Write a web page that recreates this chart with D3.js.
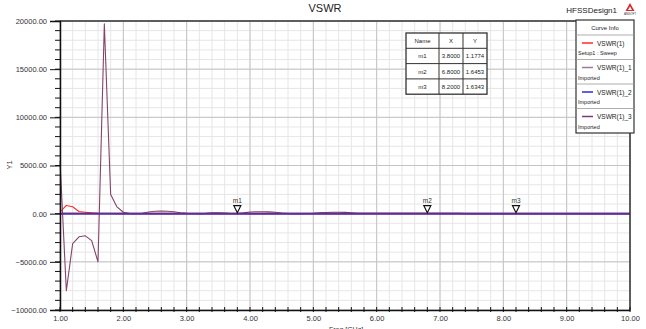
<!DOCTYPE html>
<html>
<head>
<meta charset="utf-8">
<script src="https://cdn.jsdelivr.net/npm/d3@7"></script>
<style>
  body { margin: 0; background: #fff; }
  svg { display: block; font-family: "Liberation Sans", Arial, sans-serif; }
</style>
</head>
<body>
<svg id="chart" width="646" height="329"></svg>
<script>
// Frequency samples (GHz), 0.1 step
const freq = d3.range(0, 91).map(i => +(1 + i * 0.1).toFixed(1));

// VSWR(1) - Setup1 : Sweep
const vswr1 = [150, 850, 720, 220, 150, 80, 40, 20, 10, 5,
  3, 2, 2, 1.8, 1.7, 1.6, 1.5, 1.4, 1.3, 1.2,
  1.2, 1.2, 1.2, 1.2, 1.2, 1.2, 1.2, 1.2, 1.1774, 1.2,
  1.3, 1.3, 1.4, 1.4, 1.4, 1.5, 1.5, 1.5, 1.5, 1.5,
  1.6, 1.6, 1.6, 1.6, 1.6, 1.6, 1.6, 1.6, 1.6, 1.6,
  1.6, 1.6, 1.6, 1.6, 1.6, 1.6, 1.6, 1.6, 1.6453, 1.6,
  1.6, 1.6, 1.6, 1.6, 1.6, 1.6, 1.6, 1.6, 1.6, 1.6,
  1.6, 1.6, 1.6343, 1.6, 1.6, 1.6, 1.6, 1.6, 1.6, 1.6,
  1.6, 1.6, 1.6, 1.6, 1.6, 1.6, 1.6, 1.6, 1.6, 1.6, 1.6];

// VSWR(1)_1 - Imported (large oscillation)
const vswr1_1 = [5500, -8000, -3100, -2400, -2300, -2800, -5000, 19700, 2000, 700,
  150, 20, 5, 50, 180, 250, 260, 250, 200, 100,
  30, 10, 5, 30, 80, 100, 60, 20, 5, 80,
  180, 200, 200, 190, 150, 60, 10, 5, 5, 10,
  30, 80, 120, 140, 140, 130, 100, 50, 30, 40,
  40, 40, 40, 40, 40, 40, 40, 40, 40, 40,
  40, 40, 40, 40, 10, 5, 3, 3, 3, 3,
  3, 3, 3, 3, 3, 3, 3, 3, 3, 3,
  3, 3, 3, 3, 3, 3, 3, 3, 3, 3, 3];

// VSWR(1)_2 and VSWR(1)_3 - Imported (flat near 1)
const vswr1_2 = freq.map(() => 1.4);
const vswr1_3 = freq.map(() => 1.6);

const seriesNames = ['VSWR(1)', 'VSWR(1)_1', 'VSWR(1)_2', 'VSWR(1)_3'];
const seriesSub = ['Setup1 : Sweep', 'Imported', 'Imported', 'Imported'];
const seriesColors = ['#ff2a2a', '#84446a', '#2a2ae0', '#6a2c80'];
const legendColors = ['#ff2a2a', '#a07890', '#2a2ae0', '#7a3a7a'];
const seriesValues = [vswr1, vswr1_1, vswr1_2, vswr1_3];
const seriesWidths = [1.1, 1.1, 1.6, 1.6];

const markerNames = ['m1', 'm2', 'm3'];
const markerX = [3.8, 6.8, 8.2];
const markerY = [1.1774, 1.6453, 1.6343];

const xTicks = [1, 2, 3, 4, 5, 6, 7, 8, 9, 10];
const yTicks = [-10000, -5000, 0, 5000, 10000, 15000, 20000];

const svg = d3.select('#chart');
const pL = 60, pR = 630, pT = 21, pB = 310;

const x = d3.scaleLinear().domain([1, 10]).range([pL, pR]);
const y = d3.scaleLinear().domain([-10000, 20000]).range([pB, pT]);

const xMinor = d3.range(1, 10.001, 0.2);
const yMinor = d3.range(-10000, 20001, 1000);

// Grid
const grid = svg.append('g');
grid.selectAll('.vmin').data(xMinor).join('line')
  .attr('x1', d => x(d)).attr('x2', d => x(d)).attr('y1', pT).attr('y2', pB)
  .attr('stroke', '#e6e6e6').attr('stroke-width', 1);
grid.selectAll('.hmin').data(yMinor).join('line')
  .attr('x1', pL).attr('x2', pR).attr('y1', d => y(d)).attr('y2', d => y(d))
  .attr('stroke', '#e6e6e6').attr('stroke-width', 1);
grid.selectAll('.vmaj').data(xTicks).join('line')
  .attr('x1', d => x(d)).attr('x2', d => x(d)).attr('y1', pT).attr('y2', pB)
  .attr('stroke', '#c4c4c4').attr('stroke-width', 1);
grid.selectAll('.hmaj').data(yTicks).join('line')
  .attr('x1', pL).attr('x2', pR).attr('y1', d => y(d)).attr('y2', d => y(d))
  .attr('stroke', '#c4c4c4').attr('stroke-width', 1);

// Curves
const line = d3.line().x((d, i) => x(freq[i])).y(d => y(d));
const curves = svg.append('g');
seriesValues.forEach((vals, k) => {
  curves.append('path')
    .attr('d', line(vals))
    .attr('fill', 'none')
    .attr('stroke', seriesColors[k])
    .attr('stroke-width', seriesWidths[k])
    .attr('stroke-linejoin', 'round');
});

// Frame
svg.append('line').attr('x1', pL).attr('x2', pR).attr('y1', pT).attr('y2', pT)
  .attr('stroke', '#333').attr('stroke-width', 1.5);
svg.append('line').attr('x1', pR).attr('x2', pR).attr('y1', pT).attr('y2', pB)
  .attr('stroke', '#333').attr('stroke-width', 1.5);

// Axes
const yAxis = svg.append('g').attr('transform', `translate(${pL},0)`)
  .call(d3.axisLeft(y).tickValues(yTicks).tickFormat(d3.format('.2f')).tickSize(10).tickPadding(3));
yAxis.select('.domain').attr('stroke', '#111').attr('stroke-width', 1.5);
yAxis.selectAll('.tick line').attr('stroke', '#111');
yAxis.selectAll('text').attr('font-size', 7.5).attr('fill', '#333');
svg.append('g').selectAll('line').data(yMinor).join('line')
  .attr('x1', pL - 5).attr('x2', pL).attr('y1', d => y(d)).attr('y2', d => y(d))
  .attr('stroke', '#111');

const xAxis = svg.append('g').attr('transform', `translate(0,${pB})`)
  .call(d3.axisBottom(x).tickValues(xTicks).tickFormat(d3.format('.2f')).tickSize(0).tickPadding(6));
xAxis.select('.domain').attr('stroke', '#111').attr('stroke-width', 1.5);
xAxis.selectAll('text').attr('font-size', 7.5).attr('fill', '#333');
svg.append('g').selectAll('line').data(xMinor).join('line')
  .attr('x1', d => x(d)).attr('x2', d => x(d)).attr('y1', pB - 3).attr('y2', pB + 2)
  .attr('stroke', '#111');

// Axis titles
svg.append('text').attr('x', 346).attr('y', 332).attr('text-anchor', 'middle')
  .attr('font-size', 7).attr('fill', '#333').text('Freq [GHz]');
svg.append('text').attr('transform', 'translate(12,165) rotate(-90)').attr('text-anchor', 'middle')
  .attr('font-size', 7.5).attr('fill', '#333').text('Y1');

// Title
svg.append('text').attr('x', 325).attr('y', 12).attr('text-anchor', 'middle')
  .attr('font-size', 11).attr('fill', '#222').text('VSWR');
svg.append('text').attr('x', 617).attr('y', 13).attr('text-anchor', 'end')
  .attr('font-size', 8).attr('fill', '#222').text('HFSSDesign1');
// Ansoft logo
svg.append('path').attr('d', 'M630,3 L634.5,11 L625.5,11 Z').attr('fill', '#d42a2a');
svg.append('path').attr('d', 'M630,6.5 L632,10 L628,10 Z').attr('fill', '#fff');
svg.append('text').attr('x', 630).attr('y', 14.5).attr('text-anchor', 'middle')
  .attr('font-size', 3).attr('fill', '#333').text('ANSOFT');

// Markers
const mk = svg.append('g');
markerNames.forEach((m, i) => {
  const mx = x(markerX[i]), my = y(markerY[i]);
  mk.append('path')
    .attr('d', `M${mx - 3.5},${my - 8} L${mx + 3.5},${my - 8} L${mx},${my - 1} Z`)
    .attr('fill', '#fff').attr('stroke', '#111').attr('stroke-width', 1.2);
  mk.append('text').attr('x', mx).attr('y', my - 11).attr('text-anchor', 'middle')
    .attr('font-size', 6.5).attr('fill', '#333').text(m);
});

// Marker table
const tx = 406, ty = 33, colW = [33, 24, 24], rowH = 15.3;
const tbl = svg.append('g');
const tw = d3.sum(colW);
tbl.append('rect').attr('x', tx).attr('y', ty).attr('width', tw).attr('height', rowH * 4)
  .attr('fill', '#fff').attr('stroke', '#333').attr('stroke-width', 1.3);
const colX = [tx, tx + colW[0], tx + colW[0] + colW[1]];
[1, 2].forEach(c => tbl.append('line').attr('x1', colX[c]).attr('x2', colX[c])
  .attr('y1', ty).attr('y2', ty + rowH * 4).attr('stroke', '#333').attr('stroke-width', 1));
[1, 2, 3].forEach(r => tbl.append('line').attr('x1', tx).attr('x2', tx + tw)
  .attr('y1', ty + rowH * r).attr('y2', ty + rowH * r).attr('stroke', '#333').attr('stroke-width', 1));
const header = ['Name', 'X', 'Y'];
const rows = [header].concat(markerNames.map((m, i) => [m, markerX[i].toFixed(4), markerY[i].toFixed(4)]));
rows.forEach((r, ri) => r.forEach((t, ci) => {
  tbl.append('text').attr('x', colX[ci] + colW[ci] / 2).attr('y', ty + rowH * ri + rowH / 2 + 2.3)
    .attr('text-anchor', 'middle').attr('font-size', 6).attr('fill', '#222').text(t);
}));

// Legend
const lx = 576, ly = 20, lw = 58, lh = 113;
const leg = svg.append('g');
leg.append('rect').attr('x', lx).attr('y', ly).attr('width', lw).attr('height', lh)
  .attr('fill', '#fff').attr('stroke', '#333').attr('stroke-width', 1.2);
leg.append('text').attr('x', lx + lw / 2).attr('y', ly + 10).attr('text-anchor', 'middle')
  .attr('font-size', 6).attr('fill', '#222').text('Curve Info');
seriesNames.forEach((n, k) => {
  const ey = ly + 15 + k * 24.5;
  leg.append('line').attr('x1', lx).attr('x2', lx + lw).attr('y1', ey).attr('y2', ey)
    .attr('stroke', '#999').attr('stroke-width', 0.8);
  leg.append('line').attr('x1', lx + 6).attr('x2', lx + 17).attr('y1', ey + 8).attr('y2', ey + 8)
    .attr('stroke', legendColors[k]).attr('stroke-width', 1.5);
  leg.append('text').attr('x', lx + 21).attr('y', ey + 10.5).attr('font-size', 6.5)
    .attr('fill', '#222').text(n);
  leg.append('text').attr('x', lx + 2).attr('y', ey + 20).attr('font-size', 5.5)
    .attr('fill', '#222').text(seriesSub[k]);
});
</script>
</body>
</html>
